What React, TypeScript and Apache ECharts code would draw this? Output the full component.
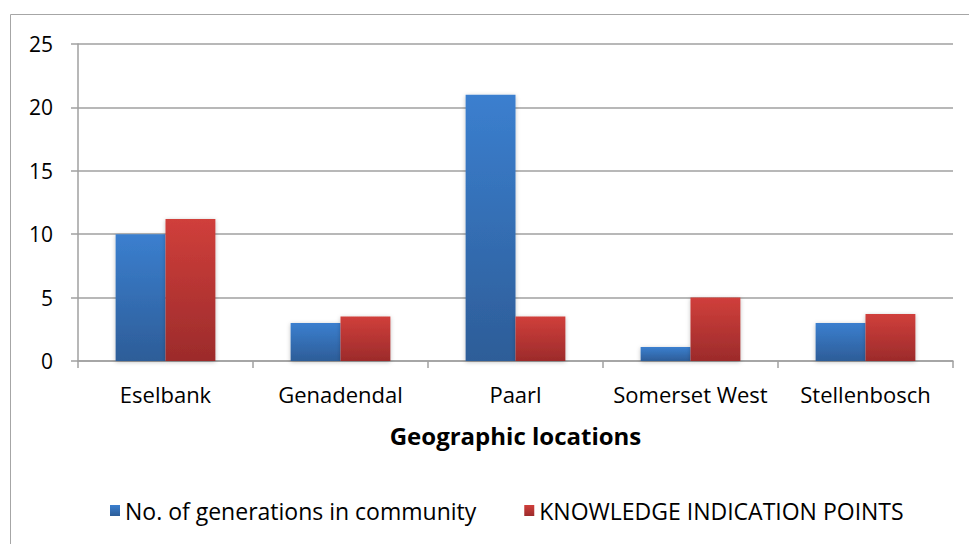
import React, { useEffect, useRef } from "react";
import * as echarts from "echarts";

const categories = ["Eselbank", "Genadendal", "Paarl", "Somerset West", "Stellenbosch"];
const generations = [10, 3, 21, 1.1, 3];
const knowledgePoints = [11.2, 3.5, 3.5, 5, 3.7];
const seriesNames = ["No. of generations in community", "KNOWLEDGE INDICATION POINTS"];
const xAxisTitle = "Geographic locations";

const FONT = "'Open Sans', Lato, sans-serif";

export default function App() {
  const ref = useRef<HTMLDivElement>(null);
  useEffect(() => {
    if (!ref.current) return;
    const chart = echarts.init(ref.current, undefined, { renderer: "svg" });
    const blue = new echarts.graphic.LinearGradient(0, 0, 0, 1, [
      { offset: 0, color: "#3b7fcf" },
      { offset: 1, color: "#2d5d98" },
    ]);
    const red = new echarts.graphic.LinearGradient(0, 0, 0, 1, [
      { offset: 0, color: "#d03f3b" },
      { offset: 1, color: "#9c2b2b" },
    ]);
    chart.setOption({
      animation: false,
      backgroundColor: "#ffffff",
      textStyle: { fontFamily: FONT },
      graphic: [
        {
          type: "rect",
          shape: { x: 10.5, y: 14.5, width: 980, height: 560 },
          style: { fill: "none", stroke: "#a6a6a6", lineWidth: 1 },
          silent: true,
        },
      ],
      grid: { left: 78, right: 16, top: 44, bottom: 183, containLabel: false },
      legend: {
        bottom: 17,
        left: 105,
        itemWidth: 10,
        itemHeight: 11,
        itemGap: 48,
        icon: "rect",
        textStyle: { fontSize: 23, color: "#000", fontFamily: FONT },
        data: seriesNames,
      },
      xAxis: {
        type: "category",
        data: categories,
        name: xAxisTitle,
        nameLocation: "middle",
        nameGap: 62,
        nameTextStyle: { fontSize: 24, fontWeight: "bold", color: "#000", fontFamily: FONT },
        axisLine: { lineStyle: { color: "#a0a0a0", width: 1.5 } },
        axisTick: { show: true, length: 7, lineStyle: { color: "#a0a0a0", width: 1.5 } },
        axisLabel: { fontSize: 22, color: "#000", margin: 22, interval: 0, fontFamily: FONT },
      },
      yAxis: {
        type: "value",
        min: 0,
        max: 25,
        interval: 5,
        axisLine: { show: true, lineStyle: { color: "#a0a0a0", width: 1.5 } },
        axisTick: { show: true, length: 7, lineStyle: { color: "#a0a0a0", width: 1.5 } },
        splitLine: { lineStyle: { color: "#a0a0a0", width: 1.5 } },
        axisLabel: { fontSize: 21, color: "#000", margin: 25, fontFamily: FONT },
      },
      series: [
        {
          name: seriesNames[0],
          type: "bar",
          data: generations,
          barGap: "0%",
          barCategoryGap: "43%",
          itemStyle: { color: blue, shadowColor: "rgba(0,0,0,0.25)", shadowBlur: 4, shadowOffsetY: 1 },
        },
        {
          name: seriesNames[1],
          type: "bar",
          data: knowledgePoints,
          barGap: "0%",
          barCategoryGap: "43%",
          itemStyle: { color: red, shadowColor: "rgba(0,0,0,0.25)", shadowBlur: 4, shadowOffsetY: 1 },
        },
      ],
    });
    return () => chart.dispose();
  }, []);
  return (
    <div
      ref={ref}
      style={{ position: "fixed", left: 0, top: 0, width: 969, height: 544, background: "#fff" }}
    />
  );
}
